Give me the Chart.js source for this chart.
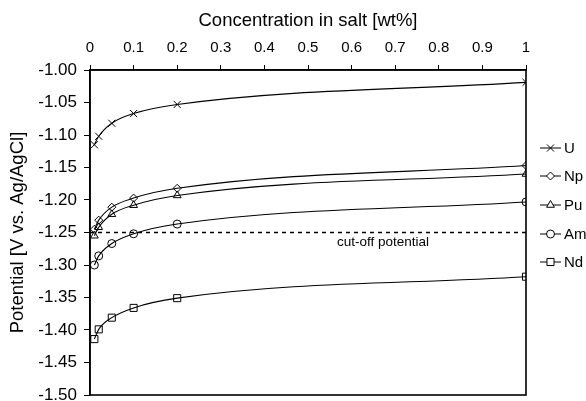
<!DOCTYPE html>
<html>
<head>
<meta charset="utf-8">
<script src="https://cdn.jsdelivr.net/npm/chart.js@4/dist/chart.umd.min.js"></script>
<style>
html,body{margin:0;padding:0;background:#fff;}
canvas{display:block;}
</style>
</head>
<body>
<canvas id="c" width="586" height="401"></canvas>
<script>
// Data
const concentrations = [0.01, 0.02, 0.05, 0.1, 0.2, 1];
const seriesNames = ['U', 'Np', 'Pu', 'Am', 'Nd'];
const U  = [-1.115, -1.102, -1.082, -1.067, -1.053, -1.019];
const Np = [-1.245, -1.231, -1.211, -1.197, -1.182, -1.147];
const Pu = [-1.255, -1.242, -1.222, -1.208, -1.193, -1.160];
const Am = [-1.300, -1.286, -1.267, -1.252, -1.237, -1.203];
const Nd = [-1.414, -1.399, -1.381, -1.366, -1.351, -1.318];
const cutOff = -1.25;
const cutOffLabel = 'cut-off potential';
const xTickValues = [0, 0.1, 0.2, 0.3, 0.4, 0.5, 0.6, 0.7, 0.8, 0.9, 1];
const yTickValues = [-1.00, -1.05, -1.10, -1.15, -1.20, -1.25, -1.30, -1.35, -1.40, -1.45, -1.50];

const FONT = "'Liberation Sans', Arial, Helvetica, sans-serif";
const seriesValues = [U, Np, Pu, Am, Nd];
const markerStyles = ['crossRot', 'rectRot', 'triangle', 'circle', 'rect'];
const markerRadii = [5, 4, 4.5, 4, 5];

function pts(vals) { return concentrations.map((x, i) => ({x: x, y: vals[i]})); }

const datasets = seriesNames.map((name, i) => ({
  label: name,
  data: pts(seriesValues[i]),
  borderColor: '#000',
  borderWidth: 1.1,
  backgroundColor: '#fff',
  pointStyle: markerStyles[i],
  pointRadius: markerRadii[i],
  pointBorderColor: '#000',
  pointBackgroundColor: 'rgba(255,255,255,0)',
  pointBorderWidth: 1,
  cubicInterpolationMode: 'monotone',
  fill: false
}));
datasets.push({
  label: cutOffLabel,
  data: [{x: 0, y: cutOff}, {x: 1, y: cutOff}],
  borderColor: '#000',
  borderWidth: 1.5,
  borderDash: [4, 4],
  pointRadius: 0,
  fill: false
});

const framePlugin = {
  id: 'frameAndLegend',
  afterDraw(chart) {
    const ctx = chart.ctx;
    const a = chart.chartArea;
    ctx.save();
    ctx.strokeStyle = '#000';
    ctx.lineWidth = 1.6;
    ctx.strokeRect(a.left, a.top, a.right - a.left, a.bottom - a.top);
    // cut-off label
    const xs = chart.scales.x, ys = chart.scales.y;
    ctx.fillStyle = '#000';
    ctx.font = '13.5px ' + FONT;
    ctx.textAlign = 'center';
    ctx.textBaseline = 'alphabetic';
    ctx.fillText(cutOffLabel, xs.getPixelForValue(0.672), ys.getPixelForValue(cutOff) + 13.5);
    // legend
    const legendY = [148, 176, 205, 234, 262];
    ctx.font = '15px ' + FONT;
    ctx.textAlign = 'left';
    ctx.textBaseline = 'middle';
    seriesNames.forEach((name, i) => {
      const y = legendY[i];
      ctx.strokeStyle = '#000';
      ctx.lineWidth = 1;
      ctx.setLineDash([]);
      ctx.beginPath();
      ctx.moveTo(540, y);
      ctx.lineTo(561, y);
      ctx.stroke();
      ctx.fillStyle = '#fff';
      Chart.helpers.drawPoint(ctx, {pointStyle: markerStyles[i], radius: markerRadii[i], borderWidth: 1, rotation: 0}, 550.5, y);
      ctx.fillStyle = '#000';
      ctx.fillText(name, 564, y + 1);
    });
    ctx.restore();
  }
};

new Chart(document.getElementById('c'), {
  type: 'line',
  data: { datasets: datasets },
  options: {
    responsive: false,
    animation: false,
    layout: { padding: { left: 0, right: 60, top: 0, bottom: 2 } },
    plugins: { legend: { display: false }, tooltip: { enabled: false } },
    scales: {
      x: {
        type: 'linear',
        position: 'top',
        min: 0, max: 1,
        afterBuildTicks(scale) { scale.ticks = xTickValues.map(v => ({value: v})); },
        ticks: {
          color: '#000',
          font: { size: 15, family: FONT },
          padding: 8,
          maxRotation: 0,
          autoSkip: false,
          callback: v => String(+v.toFixed(1))
        },
        grid: { drawOnChartArea: false, drawTicks: true, tickLength: 5, color: '#000', lineWidth: 1 },
        border: { display: true, color: '#000', width: 1.6 },
        title: {
          display: true,
          text: 'Concentration in salt [wt%]',
          color: '#000',
          font: { size: 18.5, family: FONT },
          padding: { top: 10, bottom: 4 }
        },
        afterFit(scale) { scale.height = 70; scale.paddingLeft = 0; scale.paddingRight = 0; }
      },
      y: {
        type: 'linear',
        min: -1.5, max: -1.0,
        afterBuildTicks(scale) { scale.ticks = yTickValues.map(v => ({value: v})); },
        ticks: {
          color: '#000',
          font: { size: 17, family: FONT },
          padding: 7,
          autoSkip: false,
          callback: v => v.toFixed(2)
        },
        grid: { drawOnChartArea: false, drawTicks: true, tickLength: 6, color: '#000', lineWidth: 1 },
        border: { display: true, color: '#000', width: 1.6 },
        title: {
          display: true,
          text: 'Potential [V vs. Ag/AgCl]',
          color: '#000',
          font: { size: 18.5, family: FONT },
          padding: { top: 7, bottom: 0 }
        },
        afterFit(scale) { scale.width = 90; scale.paddingTop = 0; scale.paddingBottom = 0; }
      }
    }
  },
  plugins: [framePlugin]
});
</script>
</body>
</html>
